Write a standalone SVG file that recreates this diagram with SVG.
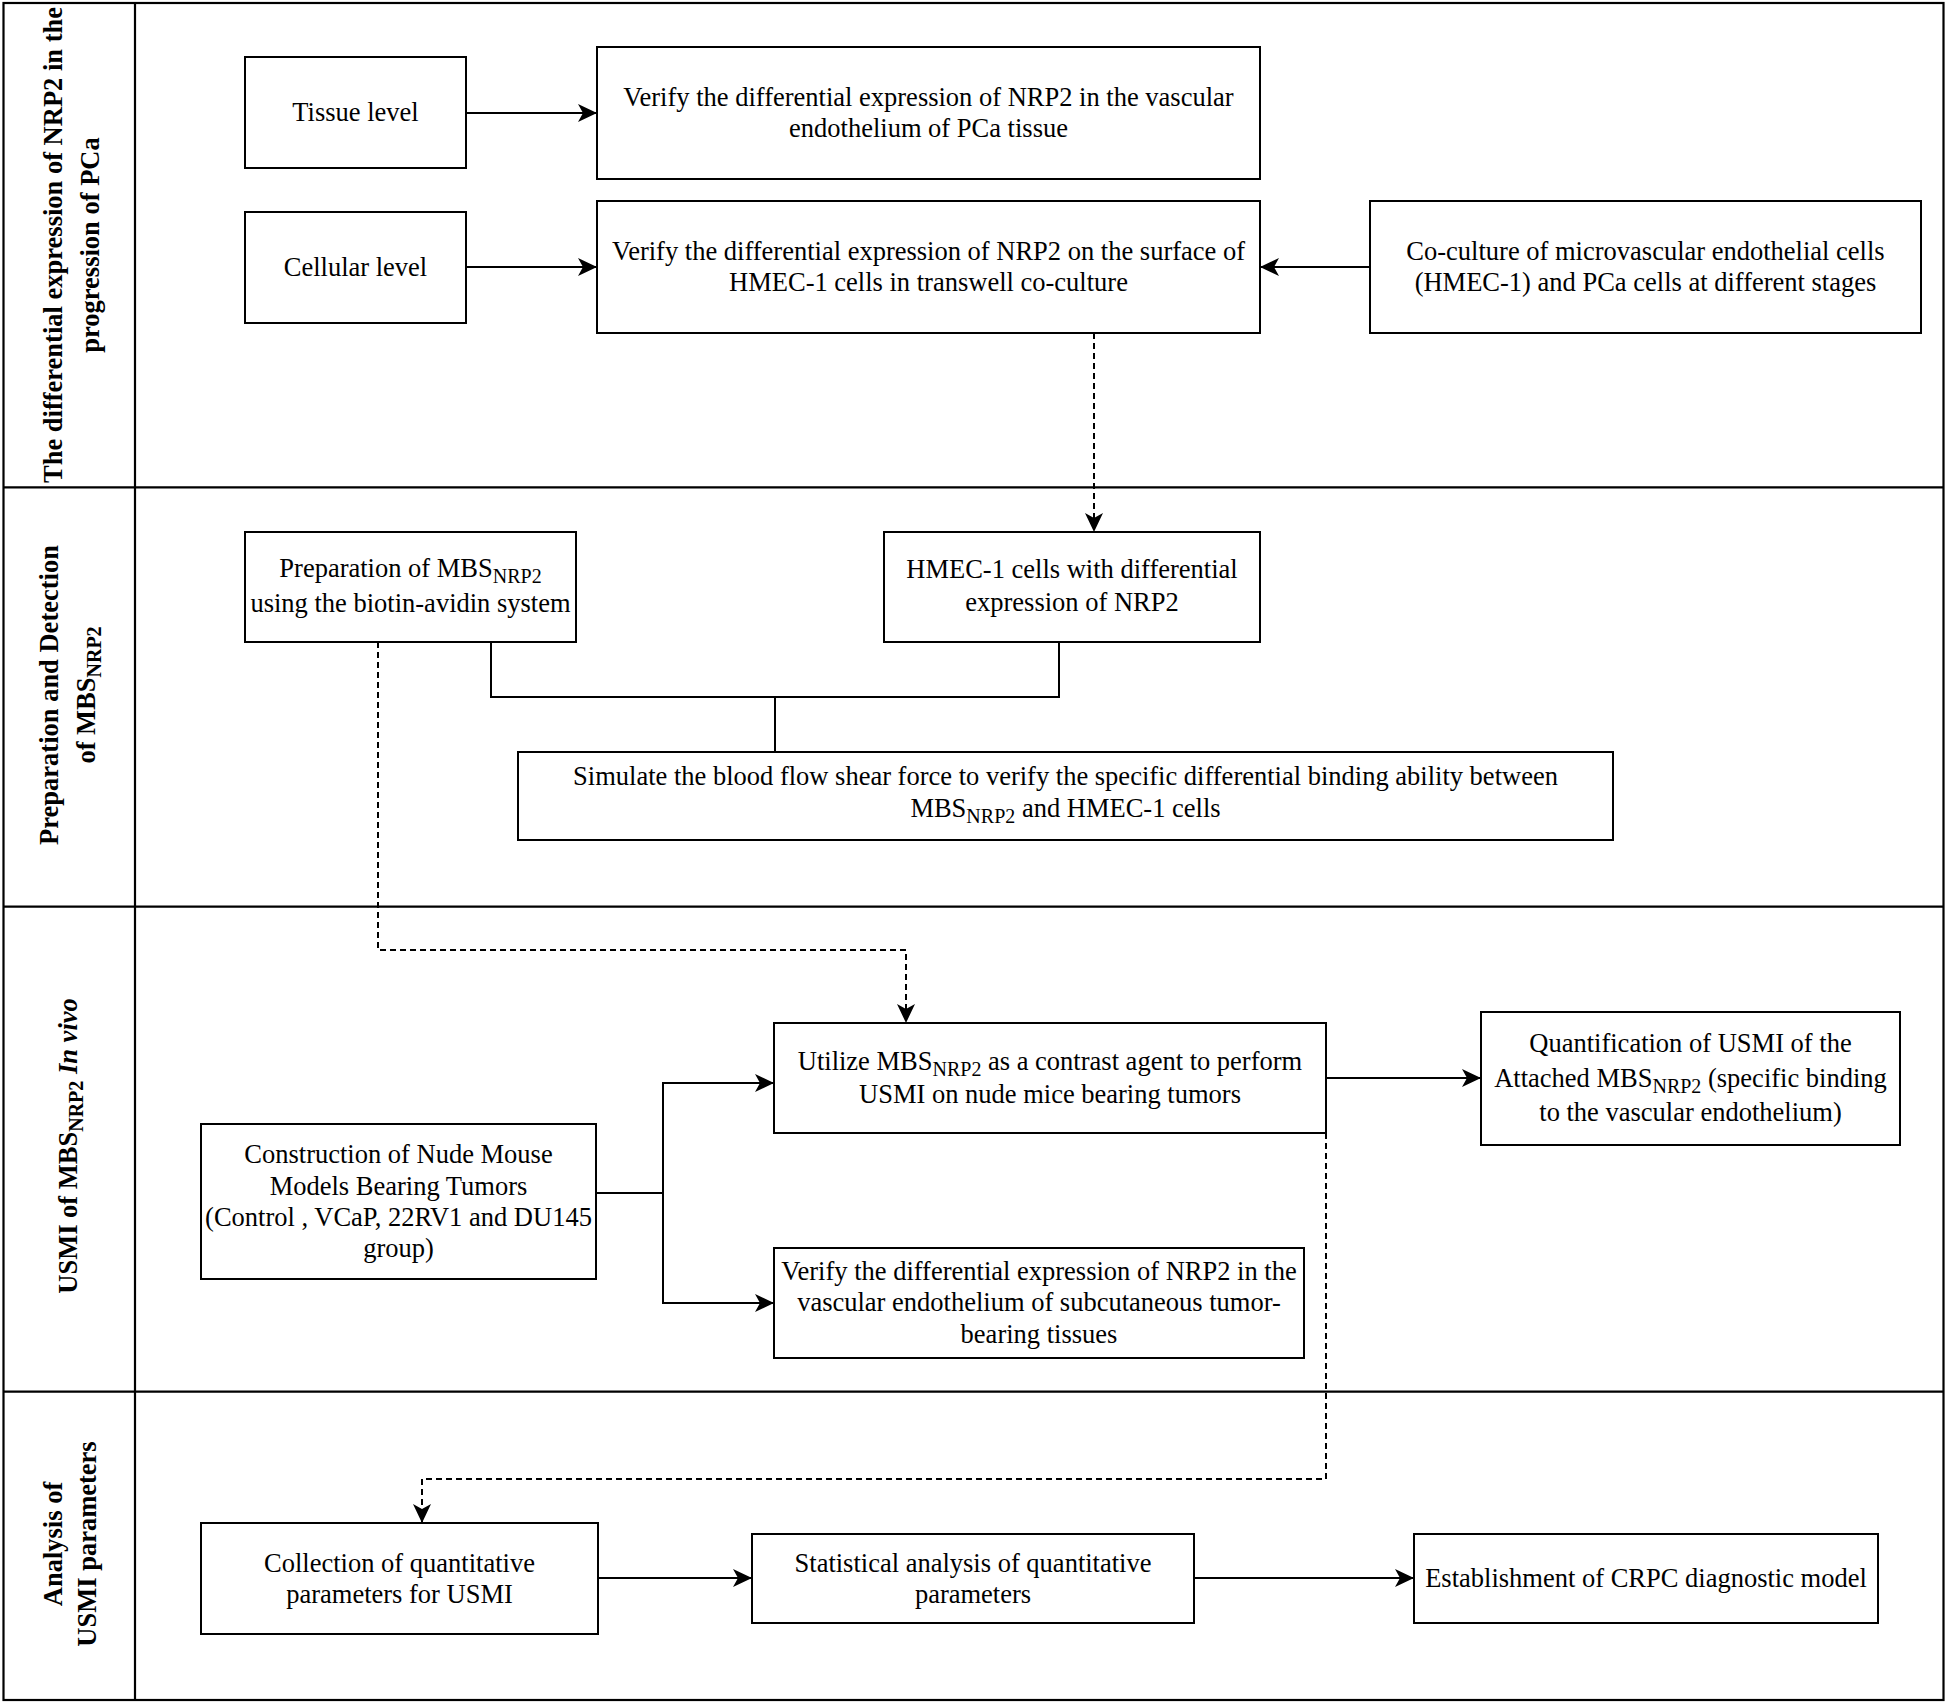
<svg xmlns="http://www.w3.org/2000/svg" width="1946" height="1703" viewBox="0 0 1946 1703">
<style>
.box{fill:#fff;stroke:#000;stroke-width:2}
.lane{fill:none;stroke:#000;stroke-width:2.2}
.t{font-family:"Liberation Serif","Times New Roman",serif;font-size:26.5px;text-anchor:middle;fill:#000}
.h{font-weight:bold}
.sub{font-size:20px}
.c{fill:none;stroke:#000;stroke-width:2}
.d{stroke-dasharray:6 4}
</style>
<defs>
<marker id="arr" markerUnits="userSpaceOnUse" markerWidth="19" markerHeight="18" viewBox="0 0 19 18" refX="19" refY="9" orient="auto"><path d="M0,0 L19,9 L0,18 L5,9 Z" fill="#000"/></marker>
</defs>
<rect width="1946" height="1703" fill="#fff"/>
<g id="lanes">
<rect class="lane" x="3.5" y="3" width="1940" height="1697"/>
<line class="lane" x1="135" y1="3" x2="135" y2="1700"/>
<line class="lane" x1="3.5" y1="487.3" x2="1943.5" y2="487.3"/>
<line class="lane" x1="3.5" y1="906.7" x2="1943.5" y2="906.7"/>
<line class="lane" x1="3.5" y1="1391.7" x2="1943.5" y2="1391.7"/>
<text class="t h" transform="translate(0,245) rotate(-90)"><tspan x="0" y="62">The differential expression of NRP2 in the</tspan><tspan x="0" y="99">progression of PCa</tspan></text>
<text class="t h" transform="translate(0,695) rotate(-90)"><tspan x="0" y="58">Preparation and Detection</tspan><tspan x="0" y="95">of MBS<tspan class="sub" dy="6">NRP2</tspan></tspan></text>
<text class="t h" transform="translate(0,1146) rotate(-90)" x="0" y="77">USMI of MBS<tspan class="sub" dy="6">NRP2</tspan><tspan dy="-6" font-style="italic"> In vivo</tspan></text>
<text class="t h" transform="translate(0,1544) rotate(-90)"><tspan x="0" y="62">Analysis of</tspan><tspan x="0" y="96">USMI parameters</tspan></text>
</g>
<g id="connectors">
<path class="c" d="M466,113 H597" marker-end="url(#arr)"/>
<path class="c" d="M466,267 H597" marker-end="url(#arr)"/>
<path class="c" d="M1370,267 H1260" marker-end="url(#arr)"/>
<path class="c d" d="M1094,333 V532" marker-end="url(#arr)"/>
<path class="c" d="M491,642 V697 H1059 V642"/>
<path class="c" d="M775,697 V752"/>
<path class="c d" d="M378,642 V950 H906 V1023" marker-end="url(#arr)"/>
<path class="c" d="M596,1193 H663 V1083 H774" marker-end="url(#arr)"/>
<path class="c" d="M663,1193 V1303 H774" marker-end="url(#arr)"/>
<path class="c" d="M1326,1078 H1481" marker-end="url(#arr)"/>
<path class="c d" d="M1326,1133 V1479 H422 V1523" marker-end="url(#arr)"/>
<path class="c" d="M598,1578 H752" marker-end="url(#arr)"/>
<path class="c" d="M1194,1578 H1414" marker-end="url(#arr)"/>
</g>
<g id="tissue"><rect class="box" x="245" y="57" width="221" height="111"/><text class="t" x="355.5" y="121">Tissue level</text></g>
<g id="cellular"><rect class="box" x="245" y="212" width="221" height="111"/><text class="t" x="355.5" y="276">Cellular level</text></g>
<g id="verify1"><rect class="box" x="597" y="47" width="663" height="132"/><text class="t"><tspan x="928.5" y="106">Verify the differential expression of NRP2 in the vascular</tspan><tspan x="928.5" y="137">endothelium of PCa tissue</tspan></text></g>
<g id="verify2"><rect class="box" x="597" y="201" width="663" height="132"/><text class="t"><tspan x="928.5" y="260">Verify the differential expression of NRP2 on the surface of</tspan><tspan x="928.5" y="291">HMEC-1 cells in transwell co-culture</tspan></text></g>
<g id="coculture"><rect class="box" x="1370" y="201" width="551" height="132"/><text class="t"><tspan x="1645.5" y="260">Co-culture of microvascular endothelial cells</tspan><tspan x="1645.5" y="291">(HMEC-1) and PCa cells at different stages</tspan></text></g>
<g id="preparation"><rect class="box" x="245" y="532" width="331" height="110"/><text class="t"><tspan x="410.5" y="577">Preparation of MBS<tspan class="sub" dy="6">NRP2</tspan></tspan><tspan x="410.5" y="612">using the biotin-avidin system</tspan></text></g>
<g id="hmec"><rect class="box" x="884" y="532" width="376" height="110"/><text class="t"><tspan x="1072" y="578">HMEC-1 cells with differential</tspan><tspan x="1072" y="611">expression of NRP2</tspan></text></g>
<g id="simulate"><rect class="box" x="518" y="752" width="1095" height="88"/><text class="t"><tspan x="1065.5" y="785">Simulate the blood flow shear force to verify the specific differential binding ability between</tspan><tspan x="1065.5" y="817">MBS<tspan class="sub" dy="6">NRP2</tspan><tspan dy="-6"> and HMEC-1 cells</tspan></tspan></text></g>
<g id="construction"><rect class="box" x="201" y="1124" width="395" height="155"/><text class="t"><tspan x="398.5" y="1163">Construction of Nude Mouse</tspan><tspan x="398.5" y="1195">Models Bearing Tumors</tspan><tspan x="398.5" y="1226">(Control , VCaP, 22RV1 and DU145</tspan><tspan x="398.5" y="1257">group)</tspan></text></g>
<g id="utilize"><rect class="box" x="774" y="1023" width="552" height="110"/><text class="t"><tspan x="1050" y="1070">Utilize MBS<tspan class="sub" dy="6">NRP2</tspan><tspan dy="-6"> as a contrast agent to perform</tspan></tspan><tspan x="1050" y="1103">USMI on nude mice bearing tumors</tspan></text></g>
<g id="quantification"><rect class="box" x="1481" y="1012" width="419" height="133"/><text class="t"><tspan x="1690.5" y="1052">Quantification of USMI of the</tspan><tspan x="1690.5" y="1087">Attached MBS<tspan class="sub" dy="6">NRP2</tspan><tspan dy="-6"> (specific binding</tspan></tspan><tspan x="1690.5" y="1121">to the vascular endothelium)</tspan></text></g>
<g id="verify3"><rect class="box" x="774" y="1248" width="530" height="110"/><text class="t"><tspan x="1039" y="1280">Verify the differential expression of NRP2 in the</tspan><tspan x="1039" y="1311">vascular endothelium of subcutaneous tumor-</tspan><tspan x="1039" y="1343">bearing tissues</tspan></text></g>
<g id="collection"><rect class="box" x="201" y="1523" width="397" height="111"/><text class="t"><tspan x="399.5" y="1572">Collection of quantitative</tspan><tspan x="399.5" y="1603">parameters for USMI</tspan></text></g>
<g id="statistical"><rect class="box" x="752" y="1534" width="442" height="89"/><text class="t"><tspan x="973" y="1572">Statistical analysis of quantitative</tspan><tspan x="973" y="1603">parameters</tspan></text></g>
<g id="establishment"><rect class="box" x="1414" y="1534" width="464" height="89"/><text class="t" x="1646" y="1587">Establishment of CRPC diagnostic model</text></g>
</svg>
